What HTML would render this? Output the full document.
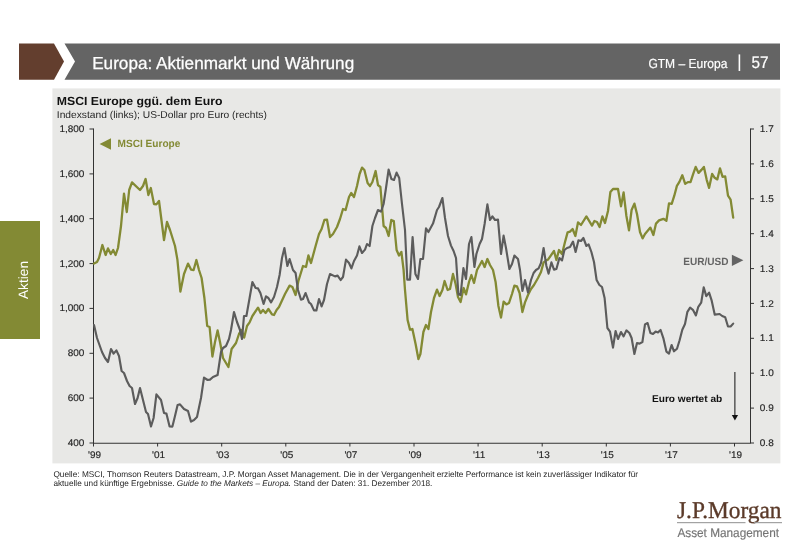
<!DOCTYPE html>
<html lang="de">
<head>
<meta charset="utf-8">
<title>Europa: Aktienmarkt und Währung</title>
<style>
html,body{margin:0;padding:0;background:#ffffff;}
body{width:800px;height:553px;overflow:hidden;position:relative;font-family:"Liberation Sans",sans-serif;}
svg{position:absolute;left:0;top:0;display:block;}
text{font-family:"Liberation Sans",sans-serif;text-rendering:geometricPrecision;}
.serif{font-family:"Liberation Serif",serif;}
</style>
</head>
<body>
<svg width="800" height="553" viewBox="0 0 800 553">

<polygon points="19,43.6 54,43.6 64,61.6 54,79.7 19,79.7" fill="#633e2e"/>
<polygon points="64.5,43.6 780,43.6 780,79.7 64.5,79.7 75,61.6" fill="#646464"/>
<text x="92.2" y="69" font-size="17.4" fill="#ffffff" stroke="#ffffff" stroke-width="0.25" textLength="262" lengthAdjust="spacingAndGlyphs">Europa: Aktienmarkt und Währung</text>
<text x="648.4" y="67.5" font-size="13.1" fill="#ffffff" stroke="#ffffff" stroke-width="0.2" textLength="79" lengthAdjust="spacingAndGlyphs">GTM – Europa</text>
<rect x="738.6" y="54.4" width="1.6" height="16.6" fill="#ffffff"/>
<text x="751.4" y="67.6" font-size="16.8" fill="#ffffff" stroke="#ffffff" stroke-width="0.2" textLength="17" lengthAdjust="spacingAndGlyphs">57</text>
<rect x="0" y="221" width="40" height="118" fill="#838a34"/>
<text transform="translate(28,299) rotate(-90)" font-size="13.5" fill="#ffffff" textLength="38" lengthAdjust="spacingAndGlyphs">Aktien</text>
<rect x="52.4" y="88.4" width="728" height="375" fill="#e8e8e6"/>
<text x="56.8" y="104.5" font-size="11.8" font-weight="bold" fill="#111111" textLength="165.6" lengthAdjust="spacingAndGlyphs">MSCI Europe ggü. dem Euro</text>
<text x="56.8" y="117.9" font-size="10" fill="#262626" textLength="210" lengthAdjust="spacingAndGlyphs">Indexstand (links); US-Dollar pro Euro (rechts)</text>
<g stroke="#333333" stroke-width="1" fill="none">
<line x1="93.5" y1="128.5" x2="93.5" y2="443.5"/>
<line x1="93.5" y1="443.25" x2="750.5" y2="443.25"/>
<line x1="750.5" y1="128.5" x2="750.5" y2="443.5"/>
<line x1="89.5" y1="129.0" x2="93.5" y2="129.0"/>
<line x1="89.5" y1="173.9" x2="93.5" y2="173.9"/>
<line x1="89.5" y1="218.7" x2="93.5" y2="218.7"/>
<line x1="89.5" y1="263.6" x2="93.5" y2="263.6"/>
<line x1="89.5" y1="308.4" x2="93.5" y2="308.4"/>
<line x1="89.5" y1="353.3" x2="93.5" y2="353.3"/>
<line x1="89.5" y1="398.1" x2="93.5" y2="398.1"/>
<line x1="89.5" y1="443.0" x2="93.5" y2="443.0"/>
<line x1="750.5" y1="129.0" x2="754.0" y2="129.0"/>
<line x1="750.5" y1="163.9" x2="754.0" y2="163.9"/>
<line x1="750.5" y1="198.8" x2="754.0" y2="198.8"/>
<line x1="750.5" y1="233.7" x2="754.0" y2="233.7"/>
<line x1="750.5" y1="268.6" x2="754.0" y2="268.6"/>
<line x1="750.5" y1="303.4" x2="754.0" y2="303.4"/>
<line x1="750.5" y1="338.3" x2="754.0" y2="338.3"/>
<line x1="750.5" y1="373.2" x2="754.0" y2="373.2"/>
<line x1="750.5" y1="408.1" x2="754.0" y2="408.1"/>
<line x1="750.5" y1="443.0" x2="754.0" y2="443.0"/>
<line x1="93.5" y1="443.0" x2="93.5" y2="446.5"/>
<line x1="157.6" y1="443.0" x2="157.6" y2="446.5"/>
<line x1="221.7" y1="443.0" x2="221.7" y2="446.5"/>
<line x1="285.8" y1="443.0" x2="285.8" y2="446.5"/>
<line x1="349.9" y1="443.0" x2="349.9" y2="446.5"/>
<line x1="414.0" y1="443.0" x2="414.0" y2="446.5"/>
<line x1="478.1" y1="443.0" x2="478.1" y2="446.5"/>
<line x1="542.2" y1="443.0" x2="542.2" y2="446.5"/>
<line x1="606.3" y1="443.0" x2="606.3" y2="446.5"/>
<line x1="670.4" y1="443.0" x2="670.4" y2="446.5"/>
<line x1="734.5" y1="443.0" x2="734.5" y2="446.5"/>
</g>
<g font-size="9.7" fill="#262626" stroke="#262626" stroke-width="0.15">
<text x="84.4" y="132.0" text-anchor="end" textLength="25.0" lengthAdjust="spacingAndGlyphs">1,800</text>
<text x="84.4" y="176.9" text-anchor="end" textLength="25.0" lengthAdjust="spacingAndGlyphs">1,600</text>
<text x="84.4" y="221.7" text-anchor="end" textLength="25.0" lengthAdjust="spacingAndGlyphs">1,400</text>
<text x="84.4" y="266.6" text-anchor="end" textLength="25.0" lengthAdjust="spacingAndGlyphs">1,200</text>
<text x="84.4" y="311.4" text-anchor="end" textLength="25.0" lengthAdjust="spacingAndGlyphs">1,000</text>
<text x="84.4" y="356.3" text-anchor="end" textLength="16.7" lengthAdjust="spacingAndGlyphs">800</text>
<text x="84.4" y="401.1" text-anchor="end" textLength="16.7" lengthAdjust="spacingAndGlyphs">600</text>
<text x="84.4" y="446.0" text-anchor="end" textLength="16.7" lengthAdjust="spacingAndGlyphs">400</text>
<text x="759.8" y="132.1" textLength="13.9" lengthAdjust="spacingAndGlyphs">1.7</text>
<text x="759.8" y="167.0" textLength="13.9" lengthAdjust="spacingAndGlyphs">1.6</text>
<text x="759.8" y="201.9" textLength="13.9" lengthAdjust="spacingAndGlyphs">1.5</text>
<text x="759.8" y="236.8" textLength="13.9" lengthAdjust="spacingAndGlyphs">1.4</text>
<text x="759.8" y="271.7" textLength="13.9" lengthAdjust="spacingAndGlyphs">1.3</text>
<text x="759.8" y="306.5" textLength="13.9" lengthAdjust="spacingAndGlyphs">1.2</text>
<text x="759.8" y="341.4" textLength="13.9" lengthAdjust="spacingAndGlyphs">1.1</text>
<text x="759.8" y="376.3" textLength="13.9" lengthAdjust="spacingAndGlyphs">1.0</text>
<text x="759.8" y="411.2" textLength="13.9" lengthAdjust="spacingAndGlyphs">0.9</text>
<text x="759.8" y="446.1" textLength="13.9" lengthAdjust="spacingAndGlyphs">0.8</text>
<text x="94.5" y="458.2" text-anchor="middle" textLength="13.0" lengthAdjust="spacingAndGlyphs">'99</text>
<text x="158.6" y="458.2" text-anchor="middle" textLength="13.0" lengthAdjust="spacingAndGlyphs">'01</text>
<text x="222.7" y="458.2" text-anchor="middle" textLength="13.0" lengthAdjust="spacingAndGlyphs">'03</text>
<text x="286.8" y="458.2" text-anchor="middle" textLength="13.0" lengthAdjust="spacingAndGlyphs">'05</text>
<text x="350.9" y="458.2" text-anchor="middle" textLength="13.0" lengthAdjust="spacingAndGlyphs">'07</text>
<text x="415.0" y="458.2" text-anchor="middle" textLength="13.0" lengthAdjust="spacingAndGlyphs">'09</text>
<text x="479.1" y="458.2" text-anchor="middle" textLength="12.3" lengthAdjust="spacingAndGlyphs">'11</text>
<text x="543.2" y="458.2" text-anchor="middle" textLength="13.0" lengthAdjust="spacingAndGlyphs">'13</text>
<text x="607.3" y="458.2" text-anchor="middle" textLength="13.0" lengthAdjust="spacingAndGlyphs">'15</text>
<text x="671.4" y="458.2" text-anchor="middle" textLength="13.0" lengthAdjust="spacingAndGlyphs">'17</text>
<text x="735.5" y="458.2" text-anchor="middle" textLength="13.0" lengthAdjust="spacingAndGlyphs">'19</text>
</g>
<polyline points="94.0,263.6 97.0,262.0 99.0,258.0 102.4,245.0 105.6,255.0 108.0,248.4 110.8,254.0 113.2,250.0 115.6,255.0 118.0,248.0 121.0,226.0 124.0,193.6 126.8,212.0 129.2,190.0 132.0,182.4 140.0,190.0 143.0,186.0 145.6,179.0 148.4,195.0 150.8,188.0 154.0,204.0 156.4,204.4 159.0,201.0 164.0,240.0 167.0,222.0 170.0,230.0 175.0,246.0 177.4,259.6 178.0,266.0 180.4,291.6 184.0,274.0 188.0,263.6 191.0,269.6 193.6,270.0 196.4,260.0 199.0,270.0 201.6,278.0 204.4,298.0 207.2,326.0 209.6,327.0 212.4,356.5 215.0,342.0 217.6,330.4 220.0,342.0 223.0,358.0 228.4,367.0 231.6,349.0 236.0,343.0 239.0,334.0 241.6,330.0 244.2,337.6 247.0,326.0 249.6,322.4 252.4,316.0 258.0,307.6 260.6,313.0 263.0,310.0 265.6,313.0 268.4,309.0 272.0,314.4 274.0,315.0 276.6,310.0 279.0,307.0 285.0,294.0 289.6,285.6 292.4,287.0 295.6,295.0 298.4,281.0 303.0,266.0 306.0,267.0 308.4,255.5 311.0,263.0 315.6,246.0 319.0,234.0 321.6,229.0 324.4,220.0 327.0,219.6 330.0,237.0 333.0,234.0 337.0,227.0 340.0,219.0 343.0,209.0 345.6,210.0 349.0,197.0 351.2,193.0 354.0,197.0 357.0,186.0 359.6,174.0 362.0,167.6 364.4,170.0 367.6,183.0 370.0,186.0 372.4,182.0 375.6,171.0 378.0,185.0 380.4,187.0 383.6,226.0 386.0,228.0 388.6,236.0 391.3,220.0 393.8,221.0 396.6,250.0 399.0,255.5 401.4,252.0 403.6,270.0 405.0,290.0 407.6,320.0 410.0,329.6 412.4,329.0 415.6,344.0 418.4,359.0 420.4,354.0 423.4,332.0 426.0,325.0 428.4,329.0 431.0,312.0 434.0,298.0 437.0,289.6 439.6,296.0 442.4,290.0 444.6,281.0 447.6,290.0 450.0,289.0 453.0,274.0 455.6,284.0 458.0,297.0 460.6,302.0 463.6,288.0 466.0,294.4 469.0,282.0 471.4,275.0 474.0,283.0 477.0,270.0 482.0,261.0 484.6,267.0 487.4,259.0 490.0,265.0 493.0,270.0 495.6,282.0 498.4,306.0 501.0,317.6 503.6,301.6 506.4,304.4 509.0,303.0 512.0,294.0 514.4,285.6 517.0,286.4 519.6,293.0 522.4,312.0 525.0,302.4 528.0,295.0 531.0,289.0 534.0,285.0 538.0,278.0 541.0,272.0 543.6,262.4 547.0,260.0 548.0,259.6 554.0,251.0 556.4,260.0 559.0,250.0 562.0,254.0 565.0,242.0 567.6,232.4 570.0,231.6 572.6,229.0 575.4,236.0 578.0,222.4 581.0,225.0 586.4,216.4 592.0,225.6 594.4,221.0 597.0,222.0 599.6,227.0 602.4,216.4 605.0,223.0 608.0,211.0 610.4,192.0 613.0,189.0 618.0,189.0 621.0,206.4 623.6,192.4 626.4,216.0 629.0,230.4 631.6,210.0 634.4,203.6 637.0,214.0 640.0,232.0 642.6,238.4 645.0,234.0 650.4,227.6 653.4,235.0 656.0,223.6 659.0,220.4 663.4,218.8 666.4,220.8 669.0,203.4 671.7,203.8 674.3,195.7 676.9,185.9 679.4,181.9 682.3,175.2 685.2,183.9 687.9,182.1 690.5,182.1 693.2,173.9 695.7,166.9 698.6,172.9 701.4,169.9 703.9,166.9 706.7,179.8 709.1,187.8 712.1,173.9 714.7,177.8 717.3,179.4 720.0,168.3 722.6,176.8 725.2,176.4 728.0,195.7 730.6,199.7 733.2,217.6" fill="none" stroke="#838a34" stroke-width="2.3" stroke-linejoin="round" stroke-linecap="round"/>
<polyline points="94.0,325.0 97.0,338.0 102.0,352.0 105.0,358.0 108.0,362.0 111.0,349.0 113.6,353.6 116.4,350.4 119.0,356.0 121.6,371.0 124.0,373.0 127.0,381.0 129.6,386.0 132.0,388.0 135.0,404.0 137.6,398.0 140.0,388.0 143.0,400.0 146.0,412.0 148.0,414.0 151.0,426.4 153.6,418.0 156.4,394.4 161.0,400.0 164.0,413.0 166.4,413.6 169.6,426.4 172.4,426.6 175.0,416.0 177.6,405.0 180.0,404.4 184.0,409.0 188.0,411.0 191.0,421.6 194.0,420.0 197.0,417.0 201.0,398.0 204.0,377.6 207.6,380.0 210.0,379.6 213.0,377.0 217.6,375.0 221.0,352.0 223.0,348.0 226.0,346.0 229.0,339.0 231.0,330.0 234.0,312.0 237.0,322.0 240.0,330.0 242.0,339.0 244.0,316.0 246.4,316.0 249.6,298.0 252.4,282.0 255.6,288.0 258.0,288.4 260.4,293.0 263.6,304.0 266.0,296.4 268.4,298.0 271.0,302.4 274.0,297.0 277.0,287.0 279.6,275.0 282.0,258.0 284.4,248.0 287.4,266.0 289.6,259.0 293.0,270.0 295.6,273.0 298.0,290.0 301.0,299.6 303.0,299.0 305.6,293.0 309.0,302.4 311.0,304.0 314.0,310.4 316.4,310.4 319.0,299.0 321.6,306.4 324.0,300.0 327.0,284.0 330.0,274.0 335.0,276.4 337.6,275.6 340.6,280.0 343.0,277.0 346.0,259.6 349.0,263.0 351.4,268.4 354.0,261.0 357.0,255.5 359.4,246.4 362.0,253.0 365.0,249.6 367.0,244.0 369.6,246.0 372.4,226.0 375.0,218.0 378.0,210.0 381.0,211.6 383.6,204.0 386.0,188.0 388.6,169.6 391.4,179.0 394.0,180.0 396.6,172.6 399.2,178.0 402.0,204.0 405.0,230.0 407.3,279.6 410.0,279.6 412.6,237.0 415.4,274.0 418.0,279.0 420.4,259.0 423.0,259.0 426.0,228.4 428.4,232.0 433.0,223.6 437.0,210.0 439.0,207.0 442.4,198.0 445.0,218.0 448.0,236.0 451.0,245.6 453.6,251.0 456.0,258.0 458.4,294.4 460.6,295.0 463.4,268.0 466.0,279.0 469.0,244.0 471.4,237.0 474.4,267.0 476.4,254.0 479.6,244.0 482.0,239.0 484.6,224.0 487.4,204.4 490.0,220.0 492.4,216.4 495.0,220.0 498.0,219.6 501.0,254.0 503.6,235.6 506.0,248.0 509.4,269.0 512.0,264.0 514.4,255.6 518.0,259.0 520.0,270.0 522.4,291.0 525.0,280.0 528.0,292.4 531.0,280.0 533.6,273.0 536.0,270.0 538.6,268.4 541.0,263.0 543.6,248.0 546.4,266.0 548.6,273.6 551.4,262.4 554.0,269.6 556.4,269.0 559.4,258.0 562.0,260.4 564.4,250.0 567.0,248.0 570.0,247.0 573.0,241.6 575.6,252.0 578.4,240.4 581.0,241.0 583.4,238.0 586.4,246.0 588.6,244.4 591.4,252.0 594.0,262.0 596.6,280.0 599.4,285.0 602.0,287.0 604.6,298.0 607.4,328.0 610.0,331.6 613.0,347.6 615.6,331.0 618.0,339.0 621.0,332.0 623.6,336.4 626.4,330.4 629.4,333.0 631.6,338.0 634.4,354.0 637.0,343.0 639.6,343.6 642.4,342.0 645.0,324.4 647.6,323.0 650.4,333.0 653.0,334.0 655.6,331.6 658.0,332.4 660.6,330.0 663.5,338.7 666.4,351.6 669.0,353.6 671.6,345.0 674.0,351.3 677.0,348.7 679.6,340.3 682.3,329.7 685.0,324.0 687.4,311.8 690.1,307.7 692.9,309.8 695.9,315.4 698.3,306.8 701.2,302.7 703.7,287.4 706.3,296.1 709.1,292.7 711.7,300.7 714.7,314.6 719.6,314.0 722.2,316.0 725.2,317.2 728.0,326.5 730.6,326.5 733.2,323.6" fill="none" stroke="#5c5c5c" stroke-width="2.15" stroke-linejoin="round" stroke-linecap="round"/>
<polygon points="99.6,144 111,138.2 111,149.8" fill="#838a34"/>
<text x="117.6" y="147.3" font-size="10.5" font-weight="bold" fill="#838a34" textLength="62.7" lengthAdjust="spacingAndGlyphs">MSCI Europe</text>
<text x="683.2" y="265" font-size="10.5" font-weight="bold" fill="#646464" textLength="45.3" lengthAdjust="spacingAndGlyphs">EUR/USD</text>
<polygon points="731.9,254.8 743.4,260.3 731.9,265.9" fill="#646464"/>
<line x1="734.9" y1="372" x2="734.9" y2="416" stroke="#111" stroke-width="1"/>
<polygon points="731.8,415 738.1,415 734.9,420.6" fill="#111"/>
<text x="652" y="401.8" font-size="10" font-weight="bold" fill="#111" textLength="70.2" lengthAdjust="spacingAndGlyphs">Euro wertet ab</text>
<text x="53.4" y="476.8" font-size="8.3" fill="#262626" textLength="584.6" lengthAdjust="spacingAndGlyphs">Quelle: MSCI, Thomson Reuters Datastream, J.P. Morgan Asset Management. Die in der Vergangenheit erzielte Performance ist kein zuverlässiger Indikator für</text>
<text x="53.4" y="486.2" font-size="8.3" fill="#262626" textLength="379" lengthAdjust="spacingAndGlyphs">aktuelle und künftige Ergebnisse. <tspan font-style="italic">Guide to the Markets – Europa.</tspan> Stand der Daten: 31. Dezember 2018.</text>
<text class="serif" x="677" y="518" font-size="24" fill="#5b3a29" stroke="#5b3a29" stroke-width="0.35" textLength="104.5" lengthAdjust="spacingAndGlyphs">J.P.Morgan</text>
<rect x="677" y="522.1" width="68.5" height="1.1" fill="#9a9a9a"/>
<rect x="754" y="522.1" width="28" height="1.1" fill="#9a9a9a"/>
<text x="677.4" y="536.6" font-size="12.5" fill="#747474" stroke="#747474" stroke-width="0.15" textLength="101.6" lengthAdjust="spacingAndGlyphs">Asset Management</text>
</svg>
</body>
</html>
